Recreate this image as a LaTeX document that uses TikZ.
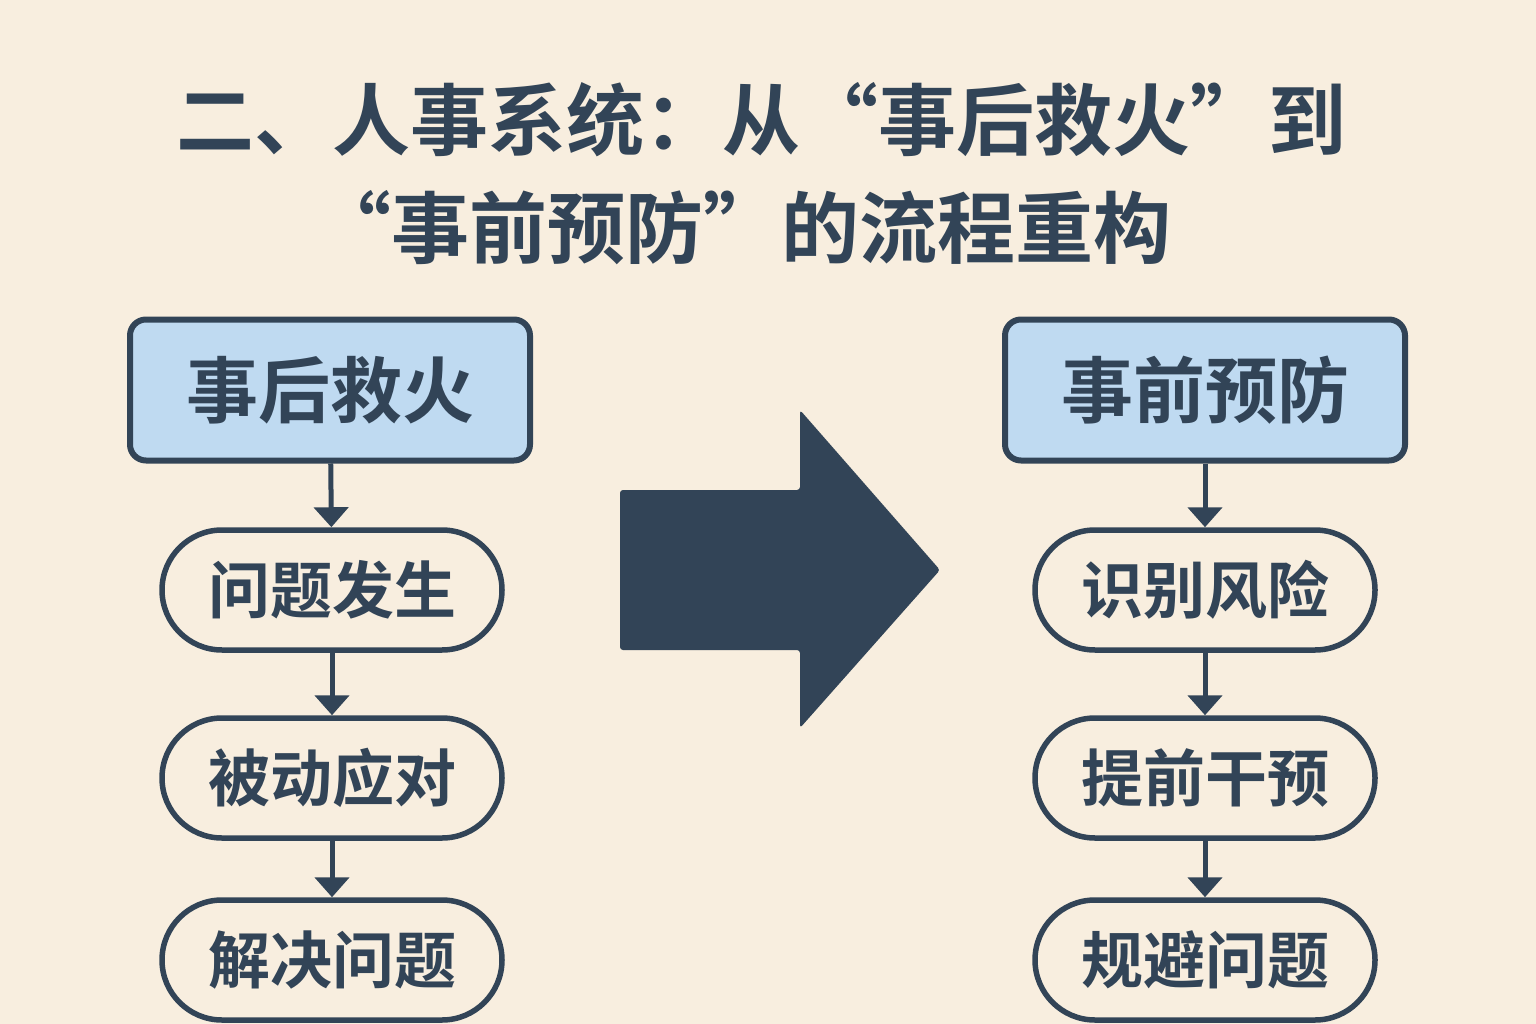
\documentclass[tikz,border=0pt]{standalone}
\usepackage{fontspec}
\usetikzlibrary{arrows.meta}
\setmainfont{Noto Sans CJK SC}[BoldFont={* Bold}]
\newfontfamily\cjkb{Noto Sans CJK SC Bold}
\definecolor{bg}{HTML}{F8EEDF}
\definecolor{ink}{HTML}{324457}
\definecolor{hdr}{HTML}{BFDAF1}
\begin{document}
\begin{tikzpicture}[x=1pt,y=-1pt,
  hdrbox/.style={draw=ink,line width=6pt,fill=hdr,rounded corners=16pt,minimum width=400pt,minimum height=141pt,inner sep=0pt,font=\cjkb\fontsize{72}{76}\selectfont,text=ink},
  pill/.style={draw=ink,line width=5.5pt,rounded corners=60pt,minimum width=340pt,minimum height=120pt,inner sep=0pt,font=\cjkb\fontsize{62}{66}\selectfont,text=ink},
  flow/.style={draw=ink,line width=5pt,-{Triangle[length=20pt,width=34pt]}},
  ttl/.style={font=\cjkb\fontsize{78}{82}\selectfont,text=ink}
]
\useasboundingbox (0,0) rectangle (1536,1024);
\fill[bg] (0,0) rectangle (1536,1024);
\node[ttl] (t1) at (761,120) {二、人事系统：从“事后救火”到};
\node[ttl] (t2) at (742,228) {“事前预防”的流程重构};
\node[hdrbox] (L0) at (330,390) {事后救火};
\node[pill] (L1) at (332,590) {问题发生};
\node[pill] (L2) at (332,778) {被动应对};
\node[pill] (L3) at (332,960) {解决问题};
\node[hdrbox] (R0) at (1205,390) {事前预防};
\node[pill] (R1) at (1205,590) {识别风险};
\node[pill] (R2) at (1205,778) {提前干预};
\node[pill] (R3) at (1205,960) {规避问题};
\draw[flow] (L0) -- (L1);
\draw[flow] (L1) -- (L2);
\draw[flow] (L2) -- (L3);
\draw[flow] (R0) -- (R1);
\draw[flow] (R1) -- (R2);
\draw[flow] (R2) -- (R3);
\fill[ink,rounded corners=3pt] (620,490) -- (800,490) -- (800,410) -- (940,570) -- (800,728) -- (800,650) -- (620,650) -- cycle;
\end{tikzpicture}
\end{document}
